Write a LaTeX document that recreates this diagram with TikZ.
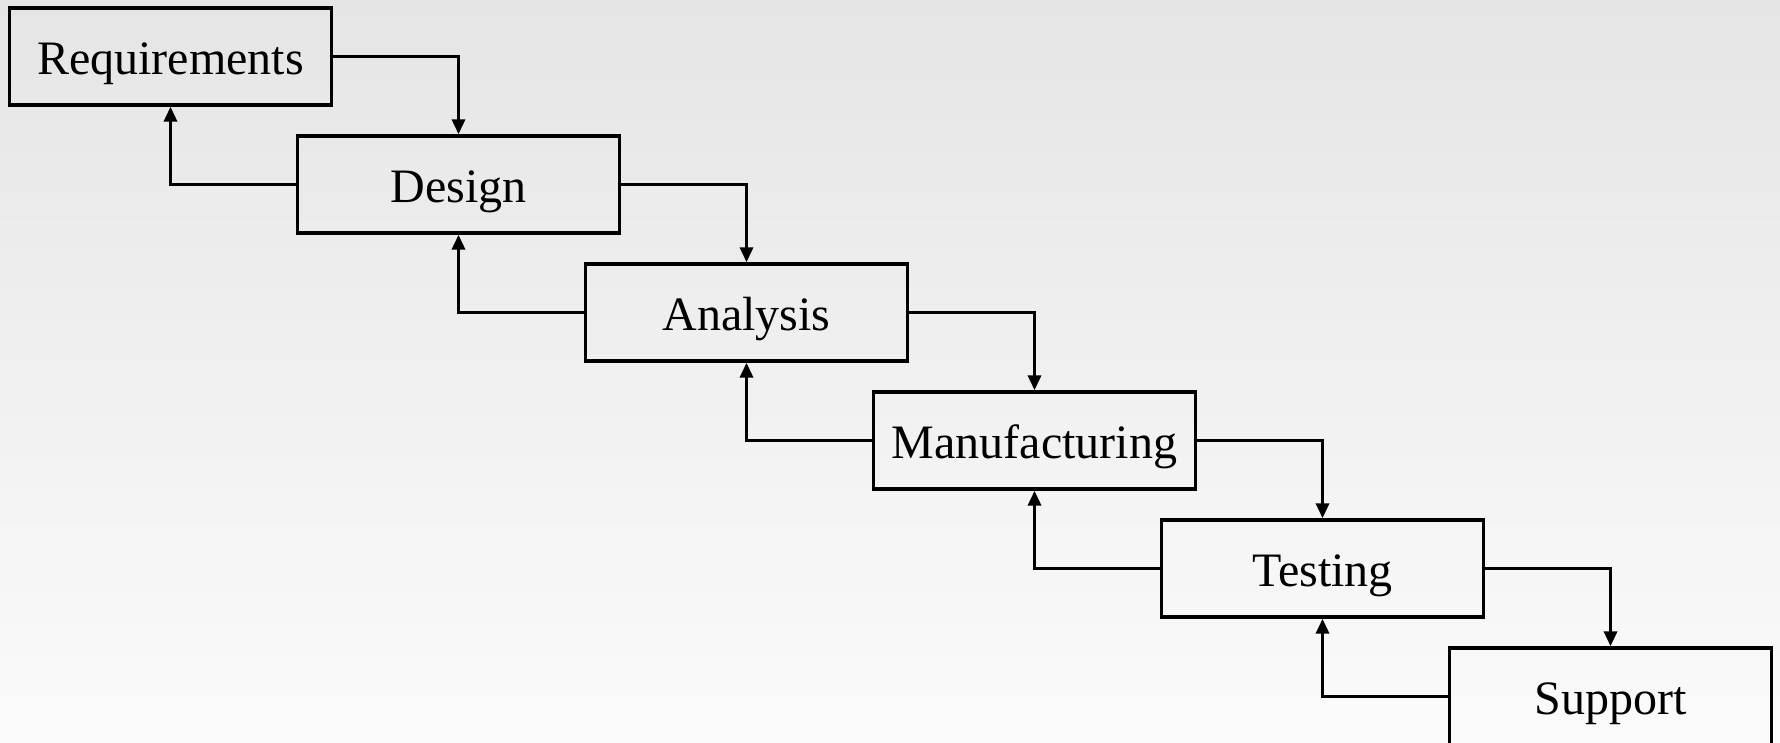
\documentclass[tikz,border=0pt]{standalone}
\usepackage{fontspec}
\setmainfont{Liberation Serif}
\usetikzlibrary{arrows.meta}
\begin{document}
\begin{tikzpicture}[x=1pt,y=1pt,
  stage/.style={draw=black, line width=1.7pt, minimum width=161pt, minimum height=48.5pt, inner sep=0pt, text height=18pt, text depth=0pt, font=\fontsize{24}{28}\selectfont, text=black},
  arr/.style={draw=black, line width=1.7pt, -{Triangle[length=7.5pt,width=6.5pt]}}]
\shade[top color={rgb,255:red,229;green,229;blue,229}, bottom color={rgb,255:red,251;green,251;blue,251}] (0,0) rectangle (890,-371.5);
\useasboundingbox (0,0) rectangle (890,-371.5);
\begin{scope}
\clip (0,0) rectangle (890,-371.5);
\node[stage] (r) at (85.25,-28.25) {Requirements};
\node[stage] (d) at (229.25,-92.25) {Design};
\node[stage] (a) at (373.25,-156.25) {Analysis};
\node[stage] (m) at (517.25,-220.25) {Manufacturing};
\node[stage] (t) at (661.25,-284.25) {Testing};
\node[stage] (s) at (805.25,-348.25) {Support};
\draw[arr] (r.east) -| (d.north);
\draw[arr] (d.east) -| (a.north);
\draw[arr] (a.east) -| (m.north);
\draw[arr] (m.east) -| (t.north);
\draw[arr] (t.east) -| (s.north);
\draw[arr] (d.west) -| (r.south);
\draw[arr] (a.west) -| (d.south);
\draw[arr] (m.west) -| (a.south);
\draw[arr] (t.west) -| (m.south);
\draw[arr] (s.west) -| (t.south);
\end{scope}
\end{tikzpicture}
\end{document}
